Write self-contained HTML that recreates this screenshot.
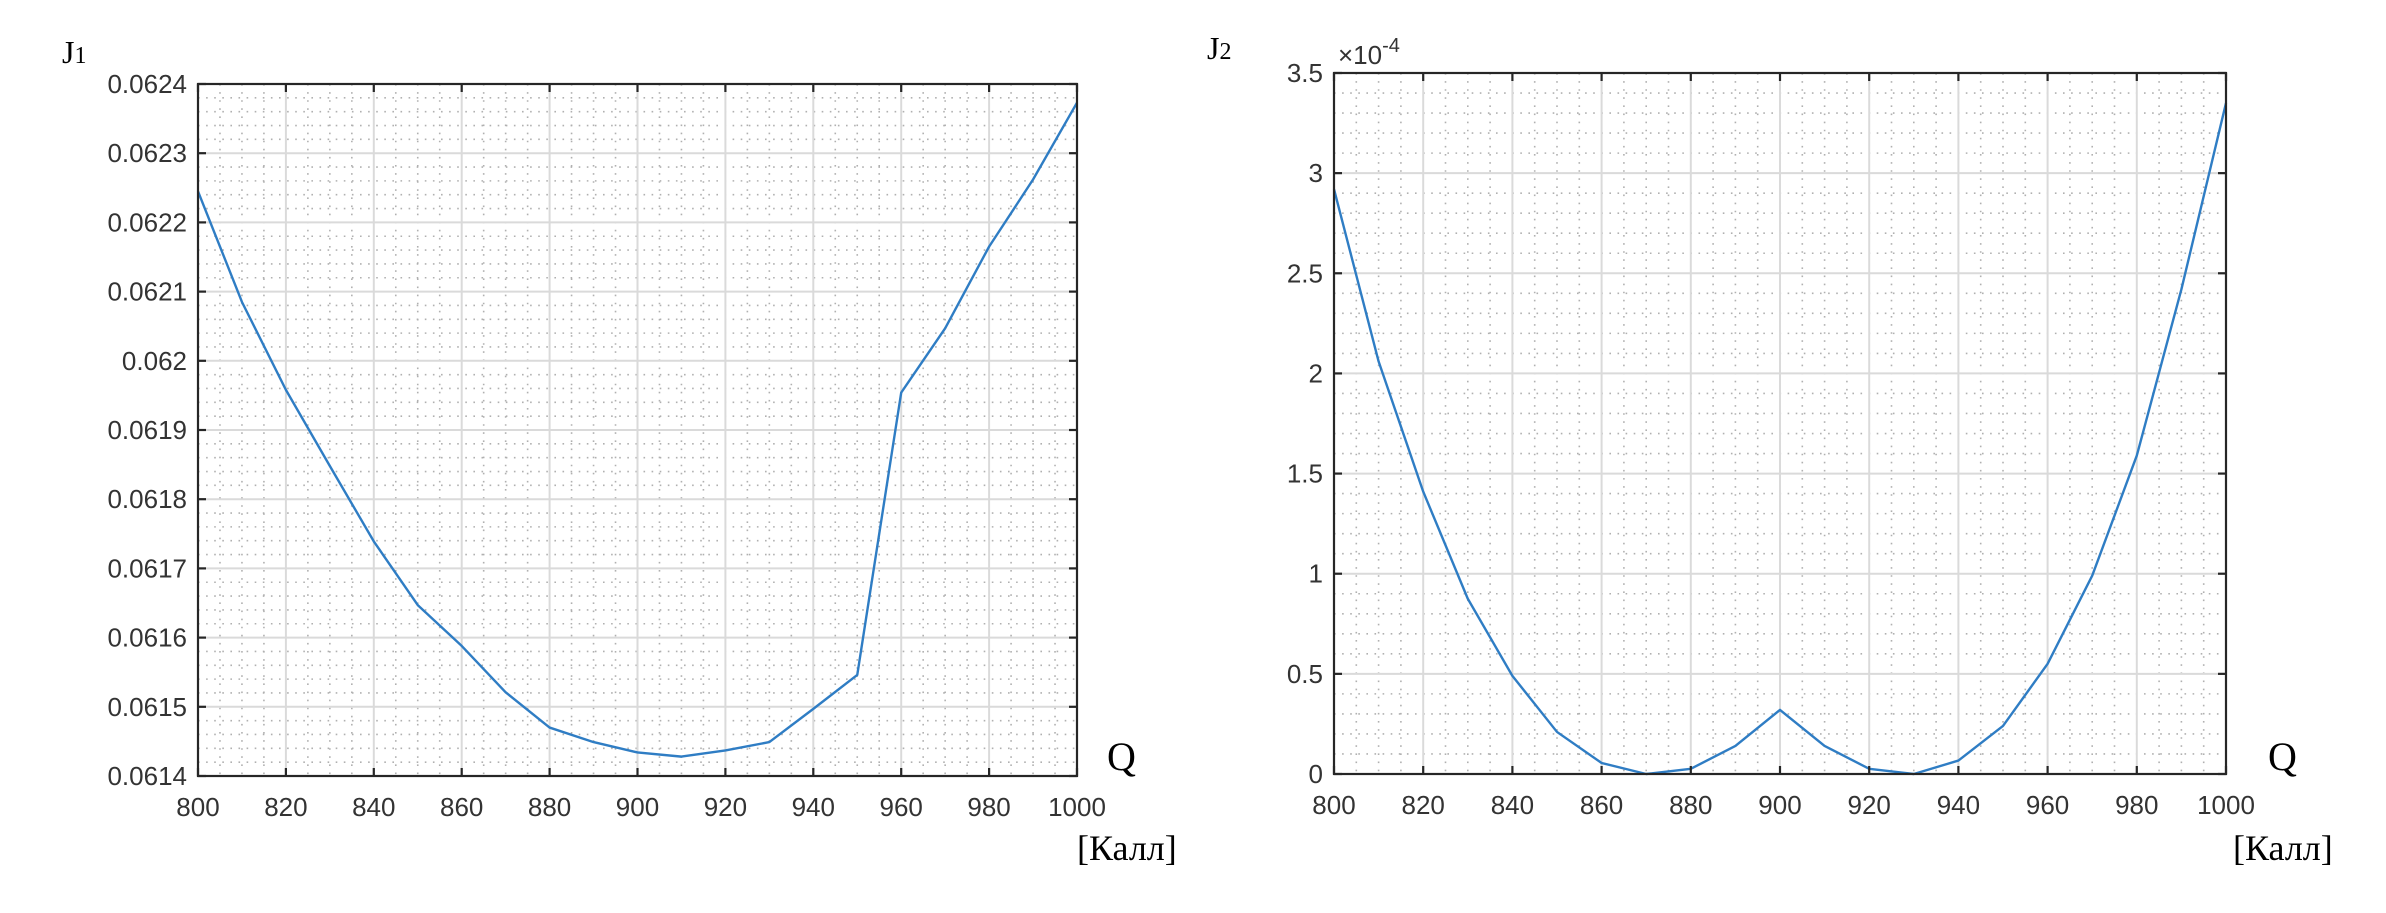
<!DOCTYPE html>
<html><head><meta charset="utf-8">
<style>
html,body{margin:0;padding:0;background:#fff;}
svg{display:block;}
.tick{font-family:"Liberation Sans",Arial,sans-serif;font-size:26px;fill:#333;}
.ser{font-family:"Liberation Serif","Times New Roman",serif;fill:#000;}
</style></head>
<body>
<svg id="chart" width="2386" height="913" viewBox="0 0 2386 913" xmlns="http://www.w3.org/2000/svg"></svg>
<script>
const qValues = [800,810,820,830,840,850,860,870,880,890,900,910,920,930,940,950,960,970,980,990,1000];
const j1Values = [0.062245,0.062085,0.061958,0.061848,0.061739,0.061647,0.061588,0.061521,0.061470,0.061449,0.061434,0.061428,0.061437,0.061449,0.061497,0.061546,0.061954,0.062047,0.062165,0.062262,0.062373];
const j2Values = [2.92,2.06,1.41,0.875,0.49,0.21,0.055,0.0,0.026,0.14,0.32,0.14,0.026,0.0,0.067,0.24,0.55,0.99,1.59,2.42,3.35];
const xTicks = [800,820,840,860,880,900,920,940,960,980,1000];
const j1Ticks = [0.0614,0.0615,0.0616,0.0617,0.0618,0.0619,0.062,0.0621,0.0622,0.0623,0.0624];
const j1TickLabels = ["0.0614","0.0615","0.0616","0.0617","0.0618","0.0619","0.062","0.0621","0.0622","0.0623","0.0624"];
const j2Ticks = [0,0.5,1,1.5,2,2.5,3,3.5];
const j2TickLabels = ["0","0.5","1","1.5","2","2.5","3","3.5"];

const NS="http://www.w3.org/2000/svg";
const svg=document.getElementById('chart');
function mk(tag,attrs,parent){const e=document.createElementNS(NS,tag);for(const k in attrs)e.setAttribute(k,attrs[k]);(parent||svg).appendChild(e);return e;}

function drawPlot(cfg){
  const g=mk('g',{});
  
  
  const L=cfg.left,R=cfg.right,T=cfg.top,B=cfg.bottom;
  const xs=v=>L+(v-800)/(1000-800)*(R-L);
  const ys=v=>B-(v-cfg.ymin)/(cfg.ymax-cfg.ymin)*(B-T);
  // minor grid
  const minor=mk('g',{stroke:'#b0b0b0','stroke-width':1.6,'stroke-dasharray':'1.6 6.5'},g);
  
  
  for(let i=0;i<xTicks.length-1;i++){for(let k=1;k<4;k++){const x=xs(xTicks[i]+k*5);mk('line',{x1:x,x2:x,y1:T,y2:B},minor);}}
  const yStep=cfg.ticks[1]-cfg.ticks[0];
  for(let i=0;i<cfg.ticks.length-1;i++){for(let k=1;k<5;k++){const y=ys(cfg.ticks[i]+k*yStep/5);mk('line',{x1:L,x2:R,y1:y,y2:y},minor);}}
  // major grid
  const major=mk('g',{stroke:'#dadada','stroke-width':2},g);
  
  
  xTicks.forEach(v=>{const x=xs(v);mk('line',{x1:x,x2:x,y1:T,y2:B},major);});
  cfg.ticks.forEach(v=>{const y=ys(v);mk('line',{x1:L,x2:R,y1:y,y2:y},major);});
  // series
  let d='';
  qValues.forEach((q,i)=>{d+=(i?'L':'M')+xs(q).toFixed(2)+' '+ys(cfg.values[i]).toFixed(2);});
  const p=mk('path',{d:d,fill:'none',stroke:'#2f7dc4','stroke-width':2.4,'stroke-linejoin':'round'},g);
  
  
  // axes box
  const box=mk('rect',{x:L,y:T,width:R-L,height:B-T,fill:'none',stroke:'#262626','stroke-width':2.2},g);
  
  
  const tk=mk('g',{stroke:'#262626','stroke-width':2.2},g);
  xTicks.forEach(v=>{const x=xs(v);mk('line',{x1:x,x2:x,y1:B,y2:B-8},tk);mk('line',{x1:x,x2:x,y1:T,y2:T+8},tk);});
  cfg.ticks.forEach(v=>{const y=ys(v);mk('line',{x1:L,x2:L+8,y1:y,y2:y},tk);mk('line',{x1:R,x2:R-8,y1:y,y2:y},tk);});
  // labels
  xTicks.forEach(v=>{const t=mk('text',{x:xs(v),y:B+40,'text-anchor':'middle',class:'tick'},g);t.textContent=v;
    
    });
  cfg.ticks.forEach((v,i)=>{const t=mk('text',{x:L-11,y:ys(v)+9,'text-anchor':'end',class:'tick'},g);t.textContent=cfg.tickLabels[i];
    
    });
  return {xs,ys};
}

drawPlot({name:'plot-j1',seriesName:'j1-line',left:198,right:1077,top:84,bottom:776,ymin:0.0614,ymax:0.0624,ticks:j1Ticks,tickLabels:j1TickLabels,values:j1Values});
drawPlot({name:'plot-j2',seriesName:'j2-line',left:1334,right:2226,top:73,bottom:774,ymin:0,ymax:3.5,ticks:j2Ticks,tickLabels:j2TickLabels,values:j2Values});
</script>
<svg style="position:absolute;left:0;top:0" width="2386" height="913">
  <text class="ser" x="62" y="63" font-size="32">J<tspan font-size="24">1</tspan></text>
  <text class="ser" x="1107" y="770" font-size="40">Q</text>
  <text class="ser" x="1077" y="860" font-size="36">[Калл]</text>
  <text class="ser" x="1207" y="59" font-size="32">J<tspan font-size="24">2</tspan></text>
  <text class="tick" x="1338" y="64" font-size="24">×10<tspan dy="-12" font-size="20">-4</tspan></text>
  <text class="ser" x="2268" y="770" font-size="40">Q</text>
  <text class="ser" x="2233" y="860" font-size="36">[Калл]</text>
</svg>
</body></html>
